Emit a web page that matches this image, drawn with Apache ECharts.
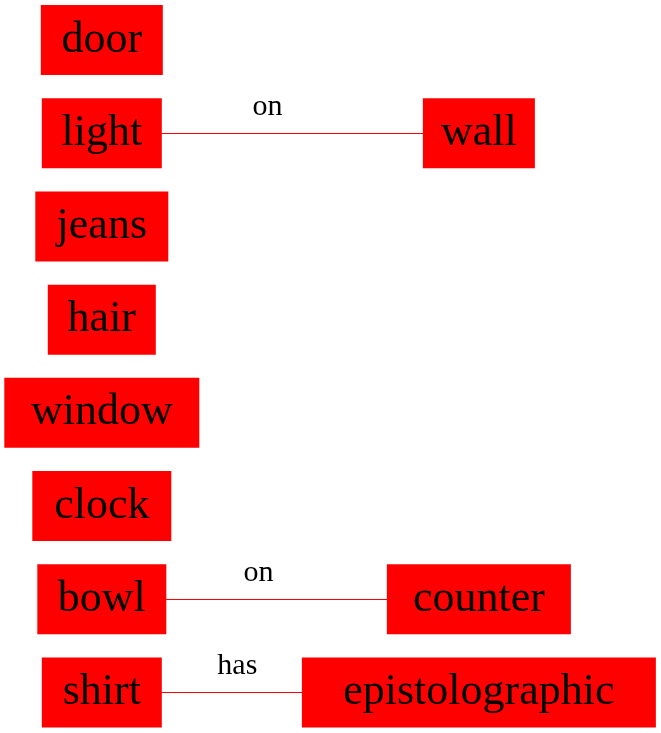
<!DOCTYPE html>
<html>
<head>
<meta charset="utf-8">
<script src="https://cdn.jsdelivr.net/npm/echarts@6/dist/echarts.min.js"></script>
<style>html,body{margin:0;padding:0;background:#fff}#main{width:661px;height:733px}</style>
</head>
<body>
<div id="main"></div>
<script>
// nodes: name, column, row
var nodeNames = ['door', 'light', 'wall', 'jeans', 'hair', 'window', 'clock', 'bowl', 'counter', 'shirt', 'epistolographic'];
var nodeCols = [0, 0, 1, 0, 0, 0, 0, 0, 1, 0, 1];
var nodeRows = [0, 1, 1, 2, 3, 4, 5, 6, 6, 7, 7];
var nodeWidths = [122, 120, 112, 133, 108, 195, 139, 129, 184, 120, 354];
// edges
var edgeFrom = ['light', 'bowl', 'shirt'];
var edgeTo = ['wall', 'counter', 'epistolographic'];
var edgeLabels = ['on', 'on', 'has'];

var chart = echarts.init(document.getElementById('main'));

var nodes = [];
for (var i = 0; i < nodeNames.length; i++) {
    nodes.push({
        name: nodeNames[i],
        value: [nodeCols[i], nodeRows[i]],
        symbolSize: [nodeWidths[i], 70]
    });
}
var links = [];
for (var j = 0; j < edgeFrom.length; j++) {
    links.push({
        source: edgeFrom[j],
        target: edgeTo[j],
        label: {show: true, formatter: edgeLabels[j]}
    });
}

var option = {
    animation: false,
    grid: {left: 0, right: 0, top: 0, bottom: 0},
    xAxis: {type: 'value', min: -0.27, max: 1.483, show: false},
    yAxis: {type: 'value', min: -0.43, max: 7.435, inverse: true, show: false},
    series: [{
        type: 'graph',
        coordinateSystem: 'cartesian2d',
        symbol: 'rect',
        data: nodes,
        links: links,
        itemStyle: {color: '#ff0000'},
        label: {
            show: true,
            position: 'inside',
            color: '#000',
            fontFamily: 'Liberation Serif',
            fontSize: 44
        },
        edgeSymbol: ['none', 'arrow'],
        edgeSymbolSize: 10,
        lineStyle: {color: '#ff0000', width: 1, opacity: 1},
        edgeLabel: {
            show: true,
            position: 'middle',
            color: '#000',
            fontFamily: 'Liberation Serif',
            fontSize: 30,
            offset: [0, -6]
        }
    }]
};
chart.setOption(option);
</script>
</body>
</html>
